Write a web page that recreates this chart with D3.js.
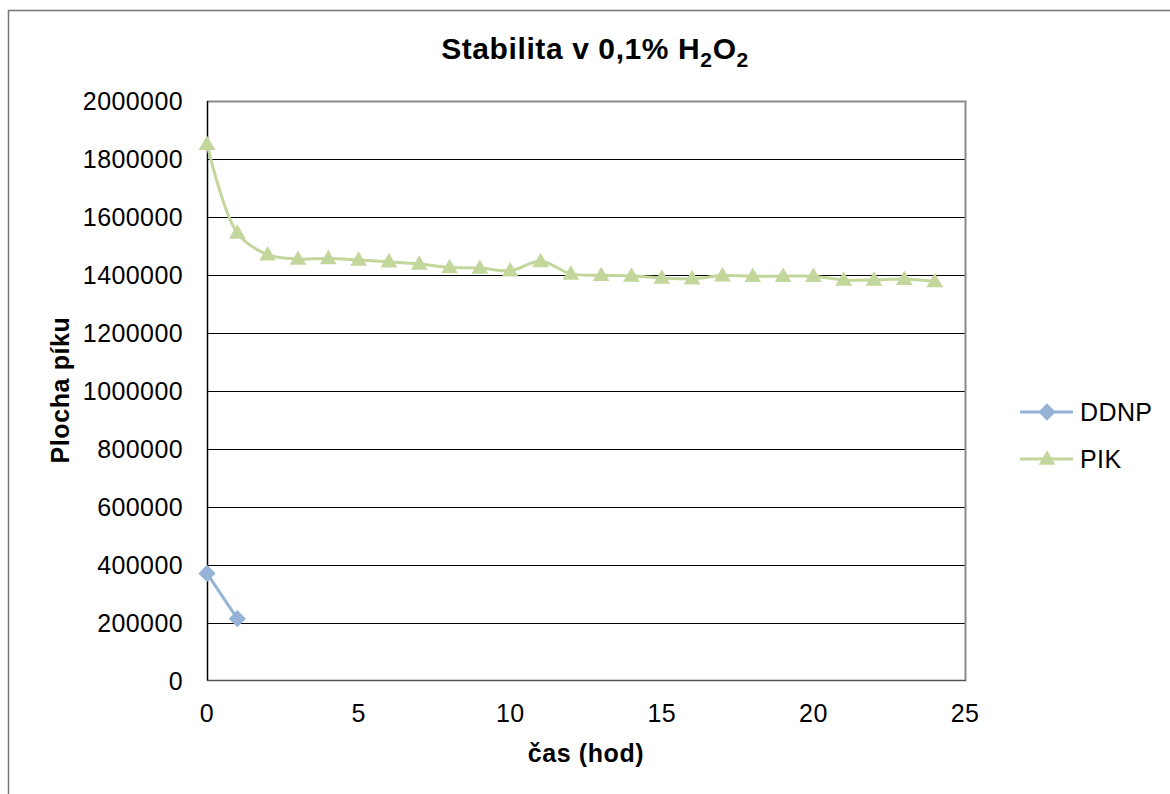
<!DOCTYPE html>
<html>
<head>
<meta charset="utf-8">
<script src="https://cdn.jsdelivr.net/npm/d3@7"></script>
<style>
  html, body { margin: 0; padding: 0; background: #fff; }
  svg { display: block; font-family: "Liberation Sans", Arial, sans-serif; }
</style>
</head>
<body>
<div id="chart"></div>
<script>
// time in hours
const hours = [0, 1, 2, 3, 4, 5, 6, 7, 8, 9, 10, 11, 12, 13, 14, 15, 16, 17, 18, 19, 20, 21, 22, 23, 24];
const ddnpHours = [0, 1];
const ddnpValues = [371000, 215000];
const pikValues = [1851000, 1545000, 1470000, 1455000, 1457000, 1452000, 1446000, 1438000, 1426000, 1424000,
    1415000, 1447000, 1404000, 1399000, 1397000, 1390000, 1387000, 1398000, 1396000, 1396000,
    1396000, 1383000, 1383000, 1386000, 1378000];
const yTicks = [0, 200000, 400000, 600000, 800000, 1000000, 1200000, 1400000, 1600000, 1800000, 2000000];
const xTicks = [0, 5, 10, 15, 20, 25];
const seriesNames = ["DDNP", "PIK"];
const seriesColors = ["#95B3D7", "#C3D69B"];

const width = 1170, height = 794;
const plot = { left: 207, top: 101, right: 965, bottom: 681 };

const svg = d3.select("#chart").append("svg")
    .attr("width", width)
    .attr("height", height);

// outer chart border
svg.append("rect")
    .attr("x", 8.5).attr("y", 10.5)
    .attr("width", 1200).attr("height", 900)
    .attr("fill", "none")
    .attr("stroke", "#767676")
    .attr("stroke-width", 1.5);

const x = d3.scaleLinear().domain([0, 25]).range([plot.left, plot.right]);
const y = d3.scaleLinear().domain([0, 2000000]).range([plot.bottom, plot.top]);

// gridlines
svg.append("g")
    .selectAll("line")
    .data(yTicks.slice(1, -1))
    .join("line")
    .attr("x1", plot.left).attr("x2", plot.right)
    .attr("y1", d => Math.round(y(d)) + 0.5)
    .attr("y2", d => Math.round(y(d)) + 0.5)
    .attr("stroke", "#000")
    .attr("stroke-width", 1);

// plot frame (top/right grey)
svg.append("path")
    .attr("d", `M${plot.left},${plot.top + 0.5}H${plot.right + 0.5}V${plot.bottom}`)
    .attr("fill", "none")
    .attr("stroke", "#8a8a8a")
    .attr("stroke-width", 2);

// axes lines
svg.append("line")
    .attr("x1", plot.left + 0.5).attr("x2", plot.left + 0.5)
    .attr("y1", plot.top).attr("y2", plot.bottom)
    .attr("stroke", "#000").attr("stroke-width", 1.5);
svg.append("line")
    .attr("x1", plot.left).attr("x2", plot.right + 1)
    .attr("y1", plot.bottom - 0.5).attr("y2", plot.bottom - 0.5)
    .attr("stroke", "#555").attr("stroke-width", 1.5);

// y tick labels
svg.append("g")
    .selectAll("text")
    .data(yTicks)
    .join("text")
    .attr("x", 183)
    .attr("y", d => y(d) + 8.5)
    .attr("text-anchor", "end")
    .attr("font-size", 25)
    .attr("letter-spacing", 0.4)
    .attr("fill", "#000")
    .text(d => d);

// x tick labels
svg.append("g")
    .selectAll("text")
    .data(xTicks)
    .join("text")
    .attr("x", d => x(d))
    .attr("y", 722)
    .attr("text-anchor", "middle")
    .attr("font-size", 25)
    .attr("letter-spacing", 0.4)
    .attr("fill", "#000")
    .text(d => d);

// title with subscripts
const title = svg.append("text")
    .attr("x", 595)
    .attr("y", 59)
    .attr("text-anchor", "middle")
    .attr("font-size", 30)
    .attr("letter-spacing", 0.6)
    .attr("font-weight", "bold");
title.append("tspan").text("Stabilita v 0,1% H");
title.append("tspan").attr("dy", 8).attr("font-size", 21).text("2");
title.append("tspan").attr("dy", -8).text("O");
title.append("tspan").attr("dy", 8).attr("font-size", 21).text("2");

// axis titles
svg.append("text")
    .attr("x", 586)
    .attr("y", 762)
    .attr("text-anchor", "middle")
    .attr("font-size", 25)
    .attr("letter-spacing", 0.6)
    .attr("font-weight", "bold")
    .text("čas (hod)");

svg.append("text")
    .attr("transform", "translate(69,390) rotate(-90)")
    .attr("text-anchor", "middle")
    .attr("font-size", 25)
    .attr("letter-spacing", 0.6)
    .attr("font-weight", "bold")
    .text("Plocha píku");

const diamond = d3.symbol().type(d3.symbolDiamond2).size(190);
const triangle = d3.symbol().type(d3.symbolTriangle2).size(200);

// DDNP series
const ddnp = ddnpHours.map((h, i) => ({ h, v: ddnpValues[i] }));
svg.append("path")
    .datum(ddnp)
    .attr("fill", "none")
    .attr("stroke", seriesColors[0])
    .attr("stroke-width", 3)
    .attr("d", d3.line().x(d => x(d.h)).y(d => y(d.v)));
svg.append("g")
    .selectAll("path")
    .data(ddnp)
    .join("path")
    .attr("transform", d => `translate(${x(d.h)},${y(d.v)})`)
    .attr("d", diamond)
    .attr("fill", seriesColors[0]);

// PIK series
const pik = hours.map((h, i) => ({ h, v: pikValues[i] }));
svg.append("path")
    .datum(pik)
    .attr("fill", "none")
    .attr("stroke", seriesColors[1])
    .attr("stroke-width", 3)
    .attr("d", d3.line().curve(d3.curveCatmullRom.alpha(0.5)).x(d => x(d.h)).y(d => y(d.v)));
svg.append("g")
    .selectAll("path")
    .data(pik)
    .join("path")
    .attr("transform", d => `translate(${x(d.h)},${y(d.v) + 1})`)
    .attr("d", triangle)
    .attr("fill", seriesColors[1]);

// legend
const legend = svg.append("g");
const legendY = [412, 459];
seriesNames.forEach((name, i) => {
    const g = legend.append("g").attr("transform", `translate(0,${legendY[i]})`);
    g.append("line")
        .attr("x1", 1020).attr("x2", 1073)
        .attr("stroke", seriesColors[i]).attr("stroke-width", 3);
    g.append("path")
        .attr("transform", `translate(1047,${i === 1 ? 1 : 0})`)
        .attr("d", i === 0 ? diamond : triangle)
        .attr("fill", seriesColors[i]);
    g.append("text")
        .attr("x", 1080).attr("y", 9)
        .attr("font-size", 25)
        .attr("letter-spacing", 0.4)
        .attr("fill", "#000")
        .text(name);
});
</script>
</body>
</html>
